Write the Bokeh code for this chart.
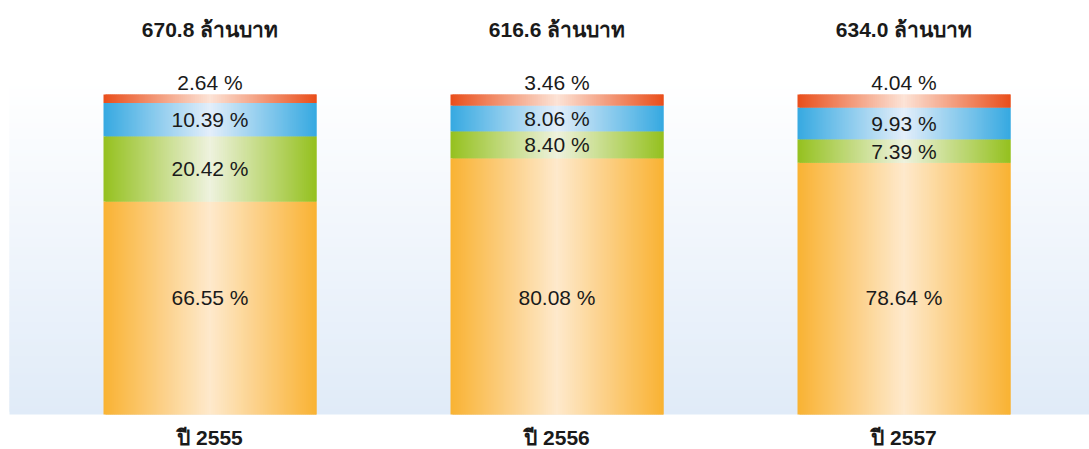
import numpy as np
from bokeh.plotting import figure
from bokeh.models import ColumnDataSource, Range1d
from bokeh.core.properties import value
from bokeh.embed import file_html
from bokeh.resources import INLINE

# ---- data ----
years = ["ปี 2555", "ปี 2556", "ปี 2557"]
totals = [670.8, 616.6, 634.0]
unit_label = "ล้านบาท"
orange = [66.55, 80.08, 78.64]
green = [20.42, 8.40, 7.39]
blue = [10.39, 8.06, 9.93]
red = [2.64, 3.46, 4.04]

series = [orange, green, blue, red]
edge_colors = [(249, 178, 51), (149, 193, 31), (54, 169, 225), (233, 78, 27)]
center_colors = [(254, 233, 204), (238, 242, 222), (227, 238, 250), (252, 227, 214)]

W, H = 1089, 449
PX_X = 347.0          # pixels per category step
PX_Y = 3.2            # pixels per percent
BASE_PX = 414.0       # screen y of 0 %
x0 = -209.5 / PX_X
y_top = BASE_PX / PX_Y
bar_w = 213 / PX_X

def sy(px):
    return (BASE_PX - px) / PX_Y

p = figure(width=W, height=H, output_backend="svg", toolbar_location=None,
           x_range=Range1d(x0, x0 + W / PX_X), y_range=Range1d(y_top - H / PX_Y, y_top),
           min_border=0, outline_line_color=None, background_fill_color="white",
           border_fill_color="white")
p.axis.visible = False
p.grid.visible = False

def hexc(c):
    return "#%02x%02x%02x" % tuple(int(round(v)) for v in c)

# background vertical gradient
bg_top = sy(80)
nb = 120
ys = np.linspace(0, bg_top, nb + 1)
bg = dict(left=[], right=[], bottom=[], top=[], color=[])
for i in range(nb):
    t = (i + 0.5) / nb  # 0 bottom -> 1 top
    c = np.array((224, 235, 248)) * (1 - t) + np.array((255, 255, 255)) * t
    bg["left"].append(x0 + 9 / PX_X)
    bg["right"].append(x0 + W / PX_X)
    bg["bottom"].append(ys[i])
    bg["top"].append(min(ys[i + 1] + (ys[1] - ys[0]), bg_top))
    bg["color"].append(hexc(c))
p.quad(source=ColumnDataSource(bg), left="left", right="right", bottom="bottom", top="top",
       fill_color="color", line_color=None)

# bars with horizontal gradient strips
ns = 107
st = dict(left=[], right=[], bottom=[], top=[], color=[])
for b in range(len(years)):
    base = 0.0
    for s, vals in enumerate(series):
        v = vals[b]
        edges = np.linspace(b - bar_w / 2, b + bar_w / 2, ns + 1)
        sw = edges[1] - edges[0]
        for k in range(ns):
            t = (k + 0.5) / ns
            d = abs(t - 0.5) * 2
            c = np.array(center_colors[s]) * (1 - d) + np.array(edge_colors[s]) * d
            st["left"].append(edges[k])
            st["right"].append(min(edges[k + 1] + sw, b + bar_w / 2))
            st["bottom"].append(base)
            st["top"].append(base + v)
            st["color"].append(hexc(c))
        base += v
p.quad(source=ColumnDataSource(st), left="left", right="right", bottom="bottom", top="top",
       fill_color="color", line_color=None)

# percentage labels
lx, ly, lt = [], [], []
for b in range(len(years)):
    base = 0.0
    for s, vals in enumerate(series):
        v = vals[b]
        lx.append(b)
        if s == 0:
            ly.append(sy(297))
        elif s == len(series) - 1:
            ly.append(base + v + 12.5 / PX_Y)
        else:
            ly.append(base + v / 2)
        lt.append(f"{v:.2f} %")
        base += v
p.text(x=lx, y=ly, text=lt, text_align="center", text_baseline="middle",
       text_font=value("Liberation Sans"), text_font_size="21px", text_color="#1a1a1a")

# totals above
xs = list(range(len(years)))
p.text(x=xs, y=[sy(29)] * 3, text=[f"{t:.1f} {unit_label}" for t in totals],
       text_align="center", text_baseline="middle", text_font=value("Liberation Sans"),
       text_font_size="21px", text_font_style="bold", text_color="#1a1a1a")

# year labels below
p.text(x=xs, y=[sy(437)] * 3, text=years,
       text_align="center", text_baseline="middle", text_font=value("Liberation Sans"),
       text_font_size="21px", text_font_style="bold", text_color="#1a1a1a")

open("out.html", "w").write(file_html(p, INLINE))
